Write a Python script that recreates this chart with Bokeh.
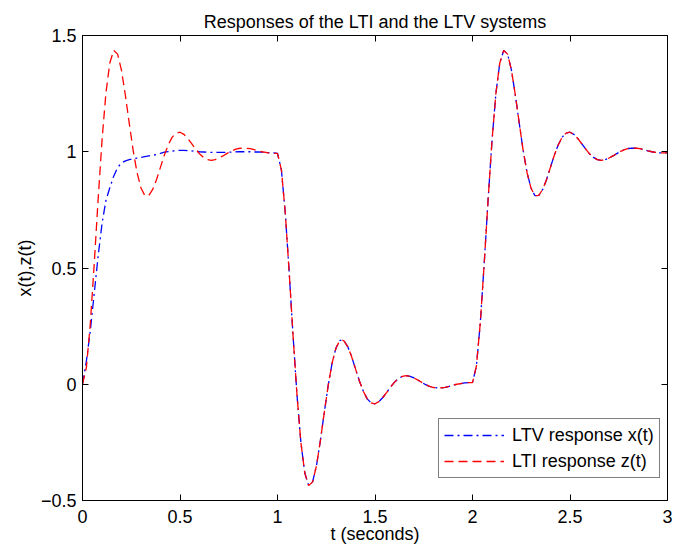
from bokeh.plotting import figure
from bokeh.models import LinearAxis, FixedTicker, Legend, LegendItem, Range1d
from bokeh.embed import file_html
from bokeh.resources import INLINE

# sample times (seconds), step 0.02 from 0 to 3
t_step = 0.02
t = [round(i * t_step, 2) for i in range(151)]

# LTI response z(t)
z_0_to_1 = [0, 0.072, 0.260, 0.516, 0.793, 1.048, 1.251, 1.382, 1.436, 1.420,
            1.350, 1.242, 1.121, 1.005, 0.909, 0.844, 0.811, 0.812, 0.838, 0.881,
            0.934, 0.986, 1.030, 1.063, 1.080, 1.084, 1.075, 1.057, 1.035, 1.012,
            0.991, 0.976, 0.966, 0.963, 0.966, 0.973, 0.982, 0.992, 1.002, 1.009,
            1.014, 1.016, 1.015, 1.013, 1.009, 1.004, 1.000, 0.997, 0.994, 0.993,
            0.993]
z_1_to_2 = [0.922, 0.736, 0.481, 0.206, -0.047, -0.251, -0.382, -0.436, -0.420, -0.350,
            -0.242, -0.121, -0.005, 0.091, 0.156, 0.189, 0.188, 0.162, 0.119, 0.066,
            0.014, -0.030, -0.063, -0.080, -0.084, -0.075, -0.057, -0.035, -0.012, 0.009,
            0.024, 0.034, 0.037, 0.034, 0.027, 0.018, 0.008, -0.002, -0.009, -0.014,
            -0.016, -0.015, -0.013, -0.009, -0.004, 0.000, 0.003, 0.006, 0.007, 0.007]
z_2_to_3 = [0.078, 0.264, 0.519, 0.794, 1.047, 1.251, 1.382, 1.436, 1.420, 1.350,
            1.242, 1.121, 1.005, 0.909, 0.844, 0.811, 0.812, 0.838, 0.881, 0.934,
            0.986, 1.030, 1.063, 1.080, 1.084, 1.075, 1.057, 1.035, 1.012, 0.991,
            0.976, 0.966, 0.963, 0.966, 0.973, 0.982, 0.992, 1.002, 1.009, 1.014,
            1.016, 1.015, 1.013, 1.009, 1.004, 1.000, 0.997, 0.995, 0.995, 0.995]

# LTV response x(t): differs on [0,1], coincides with z(t) afterwards
x_0_to_1 = [0, 0.10, 0.23, 0.39, 0.55, 0.69, 0.79, 0.845, 0.895, 0.932,
            0.952, 0.961, 0.966, 0.970, 0.973, 0.976, 0.979, 0.982, 0.985, 0.988,
            0.993, 0.998, 1.001, 1.003, 1.005, 1.006, 1.006, 1.005, 1.004, 1.002,
            1.000, 0.999, 0.998, 0.997, 0.997, 0.997, 0.997, 0.998, 0.998, 0.999,
            1.000, 1.000, 1.000, 1.000, 0.999, 0.999, 0.998, 0.997, 0.996, 0.995,
            0.993]

z_lti = z_0_to_1 + z_1_to_2 + z_2_to_3
x_ltv = x_0_to_1 + z_1_to_2 + z_2_to_3

x_ticks = [0, 0.5, 1, 1.5, 2, 2.5, 3]
x_tick_labels = ["0", "0.5", "1", "1.5", "2", "2.5", "3"]
y_ticks = [-0.5, 0, 0.5, 1, 1.5]
y_tick_labels = ["\u22120.5", "0", "0.5", "1", "1.5"]

FONT = "Liberation Sans"
FS = "18px"

p = figure(width=686, height=546, output_backend="svg", toolbar_location=None,
           x_range=Range1d(0, 3), y_range=Range1d(-0.5, 1.5),
           min_border_left=82, min_border_right=19, min_border_top=35, min_border_bottom=40,
           title="Responses of the LTI and the LTV systems")
p.title.align = "center"
p.title.text_font = FONT
p.title.text_font_size = FS
p.title.text_font_style = "normal"
p.title.text_color = "black"
p.title.standoff = 8
p.grid.visible = False
p.outline_line_color = "black"
p.outline_line_width = 1
p.background_fill_color = "white"
p.border_fill_color = "white"

r_ltv = p.line(t, x_ltv, line_color="#0000ff", line_width=1.3, line_dash="9 4 2 4")
r_lti = p.line(t, z_lti, line_color="#ff0000", line_width=1.3, line_dash="9 5")

def style_axis(ax, ticks, labels, show_labels=True):
    ax.ticker = FixedTicker(ticks=ticks)
    ax.major_tick_in = 6
    ax.major_tick_out = 0
    ax.minor_tick_line_color = None
    ax.axis_line_color = "black"
    ax.major_tick_line_color = "black"
    if show_labels:
        ax.major_label_overrides = {tk: lb for tk, lb in zip(ticks, labels)}
        ax.major_label_text_font = FONT
        ax.major_label_text_color = "black"
        ax.major_label_text_font_size = FS
        ax.axis_label_text_font = FONT
        ax.axis_label_text_font_size = FS
        ax.axis_label_text_font_style = "normal"
        ax.axis_label_text_color = "black"
    else:
        ax.major_label_text_font_size = "0px"
        ax.major_label_text_color = None
        ax.major_label_standoff = 0

xa = p.xaxis[0]
style_axis(xa, x_ticks, x_tick_labels)
xa.axis_label = "t (seconds)"
xa.major_label_standoff = 9
xa.axis_label_standoff = -2

ya = p.yaxis[0]
style_axis(ya, y_ticks, y_tick_labels)
ya.axis_label = "x(t),z(t)"
ya.major_label_standoff = 6
ya.axis_label_standoff = 3

top = LinearAxis()
style_axis(top, x_ticks, x_tick_labels, show_labels=False)
p.add_layout(top, "above")
right = LinearAxis()
style_axis(right, y_ticks, y_tick_labels, show_labels=False)
p.add_layout(right, "right")

legend = Legend(items=[LegendItem(label="LTV response x(t)", renderers=[r_ltv]),
                       LegendItem(label="LTI response z(t)", renderers=[r_lti])],
                location=(356, 22))
legend.label_text_font = FONT
legend.label_text_font_size = FS
legend.label_text_color = "black"
legend.border_line_color = "black"
legend.border_line_width = 1
legend.background_fill_color = "white"
legend.background_fill_alpha = 1
legend.glyph_width = 60
legend.glyph_height = 22
legend.label_height = 22
legend.label_standoff = 8
legend.padding = 5
legend.spacing = 4
legend.margin = 0
p.add_layout(legend, "center")

open("out.html", "w").write(file_html(p, INLINE))
